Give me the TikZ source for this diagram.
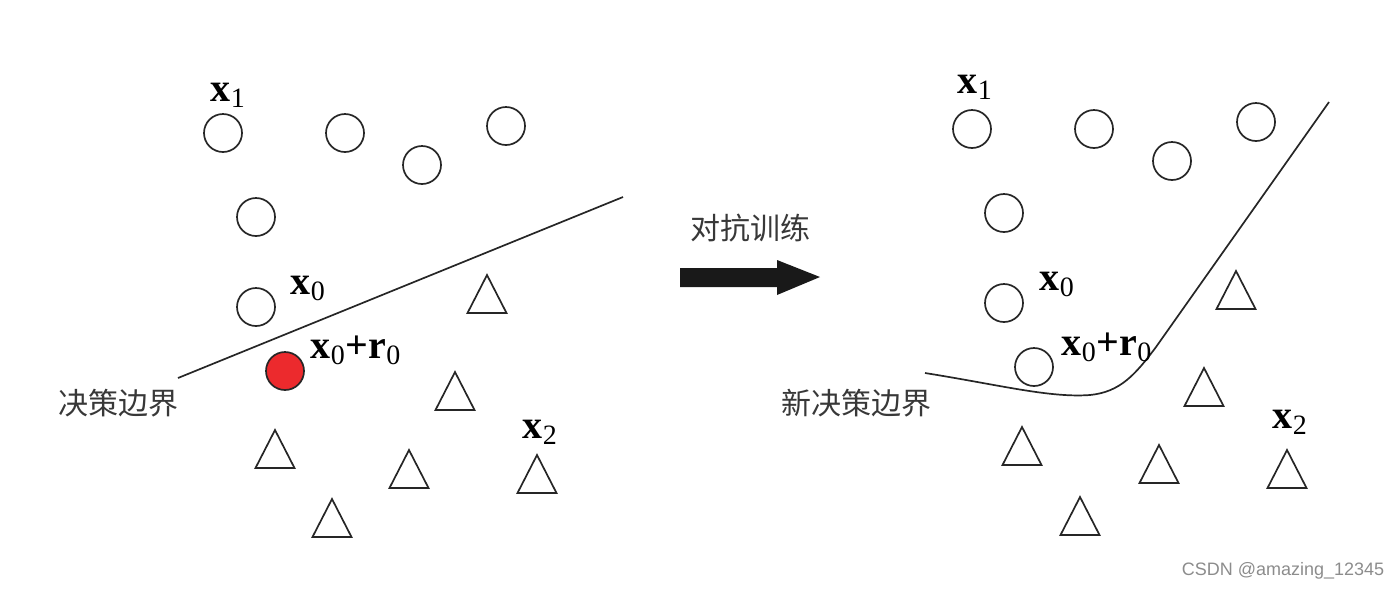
\documentclass[tikz,border=0pt]{standalone}
\usepackage{fontspec}
\setmainfont{Liberation Serif}
\newfontfamily\cjk{Noto Sans CJK SC}
\newfontfamily\wmfont{Liberation Sans}
\usetikzlibrary{positioning}
\definecolor{advred}{HTML}{EC2A2D}

\begin{document}
\begin{tikzpicture}[
  x=0.5pt, y=-0.5pt,
  line width=0.85pt,
  sample/.style={circle, draw=black!85, minimum size=19pt, inner sep=0pt},
  advsample/.style={sample, fill=advred},
  vec/.style={font=\fontsize{20}{22}\selectfont, inner sep=0pt, anchor=base west},
  zh/.style={font=\cjk\fontsize{15}{18}\selectfont, text=black!78, inner sep=0pt},
  boundary/.style={draw=black!85, line width=0.85pt},
  tri/.style={draw=black!85}
]
\useasboundingbox (0,0) rectangle (1400,590);

% ---------- Left: original decision boundary ----------
\foreach \n/\x/\y in {1/223/133, 2/345/133, 3/422/165, 4/506/126, 5/256/217, 6/256/307}
  \node[sample] (l\n) at (\x,\y) {};
\node[advsample] (ladv) at (285,371) {};
\foreach \x/\y in {487/294, 455/391, 275/449, 409/469, 537/474, 332/518}
  \draw[tri] (\x,\y-19) -- ++(-19.5,38) -- ++(39,0) -- cycle;

\coordinate (lb0) at (178,378);
\coordinate (lb1) at (623,197);
\draw[boundary] (lb0) -- (lb1);

\node[vec] (lx1)  at (210,101) {\textbf{x}\textsubscript{1}};
\node[vec] (lx0)  at (290,294) {\textbf{x}\textsubscript{0}};
\node[vec] (lxr)  at (310,358) {\textbf{x}\textsubscript{0}\textbf{+r}\textsubscript{0}};
\node[vec] (lx2)  at (522,438) {\textbf{x}\textsubscript{2}};
\node[zh]  (lbnd) at (118,403) {决策边界};

% ---------- Middle: training arrow ----------
\node[zh] (train) at (750,228) {对抗训练};
\fill[black!90] (680,268) -- (777,268) -- (777,260) -- (820,277)
  -- (777,295) -- (777,287) -- (680,287) -- cycle;

% ---------- Right: new decision boundary ----------
\foreach \n/\x/\y in {1/972/129, 2/1094/129, 3/1172/161, 4/1256/122, 5/1004/213, 6/1004/303, 7/1034/367}
  \node[sample] (r\n) at (\x,\y) {};
\foreach \x/\y in {1236/290, 1204/387, 1022/446, 1159/464, 1287/469, 1080/516}
  \draw[tri] (\x,\y-19) -- ++(-19.5,38) -- ++(39,0) -- cycle;

\coordinate (rb0) at (925,373);
\coordinate (rb1) at (1090,395);
\coordinate (rb2) at (1156,347);
\coordinate (rb3) at (1329,102);
\draw[boundary] (rb0) .. controls (1000,385) and (1050,398) .. (rb1)
  .. controls (1120,392) and (1135,375) .. (rb2) -- (rb3);

\node[vec] (rx1)  at (957,93)   {\textbf{x}\textsubscript{1}};
\node[vec] (rx0)  at (1039,290) {\textbf{x}\textsubscript{0}};
\node[vec] (rxr)  at (1061,355) {\textbf{x}\textsubscript{0}\textbf{+r}\textsubscript{0}};
\node[vec] (rx2)  at (1272,428) {\textbf{x}\textsubscript{2}};
\node[zh]  (rbnd) at (856,403)  {新决策边界};

\node[font=\wmfont\fontsize{9}{11}\selectfont, text=black!45] (wm) at (1283,571) {CSDN @amazing\_12345};

\end{tikzpicture}
\end{document}
